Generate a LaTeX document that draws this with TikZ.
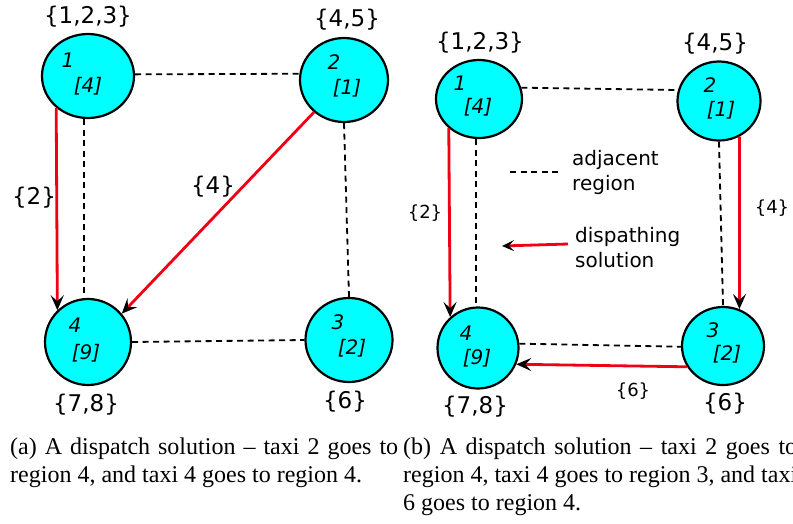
\documentclass[tikz,border=0pt]{standalone}
\usepackage{fontspec}
\setmainfont{Liberation Serif}
\newfontfamily\dv{DejaVu Sans}
\usetikzlibrary{shapes.geometric,arrows.meta}
\definecolor{regcyan}{RGB}{0,255,255}
\definecolor{dispred}{RGB}{240,0,20}
\begin{document}
\begin{tikzpicture}[x=1pt,y=-1pt,
 reg/.style={ellipse,draw=black,line width=2.2pt,fill=regcyan,inner sep=0pt},
 adj/.style={line width=1.8pt,dash pattern=on 6pt off 4.5pt},
 disp/.style={dispred,line width=2.8pt,-{Stealth[black,length=15pt,width=13pt,inset=6pt]}},
 displeg/.style={dispred,line width=2.8pt,-{Stealth[black,length=12pt,width=11pt,inset=5pt]}},
 bigtxt/.style={font=\dv\fontsize{23}{26}\selectfont,inner sep=0pt},
 inl/.style={font=\dv\itshape\fontsize{20}{22}\selectfont,inner sep=0pt},
 smltxt/.style={font=\dv\fontsize{18}{22}\selectfont,inner sep=0pt},
 legtxt/.style={font=\dv\fontsize{20}{25}\selectfont,align=left,inner sep=0pt,anchor=west},
 captxt/.style={font=\fontsize{24}{28}\selectfont,inner sep=0pt,anchor=base west},
]
\useasboundingbox (0,0) rectangle (793,523);
\clip (0,0) rectangle (793,523);
% ---------- left panel ----------
\node[reg,minimum width=92,minimum height=84] (L1) at (88,76) {};
\node[reg,minimum width=88,minimum height=84] (L2) at (344,80) {};
\node[reg,minimum width=86,minimum height=86] (L4) at (88,342) {};
\node[reg,minimum width=87,minimum height=84] (L3) at (349,340) {};
\node[inl] (l1a) at (68,60) {1};
\node[inl] (l1b) at (88,86) {[4]};
\node[inl] (l2a) at (334,62) {2};
\node[inl] (l2b) at (347,88) {[1]};
\node[inl] (l4a) at (75,325) {4};
\node[inl] (l4b) at (86,353) {[9]};
\node[inl] (l3a) at (338,322) {3};
\node[inl] (l3b) at (352,348) {[2]};
\node[bigtxt] (s1) at (88,17) {\{1,2,3\}};
\node[bigtxt] (s2) at (347,20) {\{4,5\}};
\node[bigtxt] (s4) at (86,405) {\{7,8\}};
\node[bigtxt] (s3) at (345,402) {\{6\}};
\draw[adj] (L1.2) -- (L2.172);
\draw[adj] ([xshift=-4pt]L1.south) -- ([xshift=-4pt]L4.north);
\draw[adj] (L2.south) -- (L3.north);
\draw[adj] (L4.east) -- (L3.west);
\draw[disp] (L1.225) -- (L4.134);
\draw[disp] (L2.227) -- (L4.40);
\node[bigtxt] (e12) at (34,198) {\{2\}};
\node[bigtxt] (e24) at (213,187) {\{4\}};
% ---------- right panel ----------
\node[reg,minimum width=86,minimum height=78] (R1) at (479,99) {};
\node[reg,minimum width=83,minimum height=79] (R2) at (719,101) {};
\node[reg,minimum width=81,minimum height=81] (R4) at (478,348) {};
\node[reg,minimum width=82,minimum height=78] (R3) at (723,346) {};
\node[inl] (r1a) at (460,83) {1};
\node[inl] (r1b) at (478,107) {[4]};
\node[inl] (r2a) at (710,85) {2};
\node[inl] (r2b) at (721,110) {[1]};
\node[inl] (r4a) at (466,333) {4};
\node[inl] (r4b) at (477,358) {[9]};
\node[inl] (r3a) at (713,330) {3};
\node[inl] (r3b) at (727,354) {[2]};
\node[bigtxt] (t1) at (480,43) {\{1,2,3\}};
\node[bigtxt] (t2) at (715,44) {\{4,5\}};
\node[bigtxt] (t4) at (475,407) {\{7,8\}};
\node[bigtxt] (t3) at (725,404) {\{6\}};
\draw[adj] (R1.15) -- (R2.165);
\draw[adj] ([xshift=-3pt]R1.south) -- ([xshift=-2pt]R4.north);
\draw[adj] (R2.south) -- (R3.north);
\draw[adj] (R4.6) -- (R3.181);
\draw[disp] (R1.224) -- (R4.132);
\draw[disp] (R2.300) -- (R3.66);
\draw[disp] (R3.210) -- (R4.337);
\node[smltxt] (f12) at (425,213) {\{2\}};
\node[smltxt] (f23) at (772,208) {\{4\}};
\node[smltxt] (f34) at (633,391) {\{6\}};
% legend
\coordinate (la) at (510,172);
\coordinate (lb) at (562,172);
\draw[adj] (la) -- (lb);
\node[legtxt] (lt1) at (572,172) {adjacent\\region};
\coordinate (da) at (568,244);
\coordinate (db) at (502,246);
\draw[displeg] (da) -- (db);
\node[legtxt] (lt2) at (575,248) {dispathing\\solution};
% ---------- captions ----------
\node[captxt] (ca1) at (10,454) {\makebox[388pt][s]{(a) A dispatch solution – taxi 2 goes to}};
\node[captxt] (ca2) at (10,482) {region 4, and taxi 4 goes to region 4.};
\node[captxt] (cb1) at (403,454) {\makebox[394pt][s]{(b) A dispatch solution – taxi 2 goes to}};
\node[captxt] (cb2) at (403,482) {\makebox[394pt][s]{region 4, taxi 4 goes to region 3, and taxi}};
\node[captxt] (cb3) at (403,510) {6 goes to region 4.};
\end{tikzpicture}
\end{document}
